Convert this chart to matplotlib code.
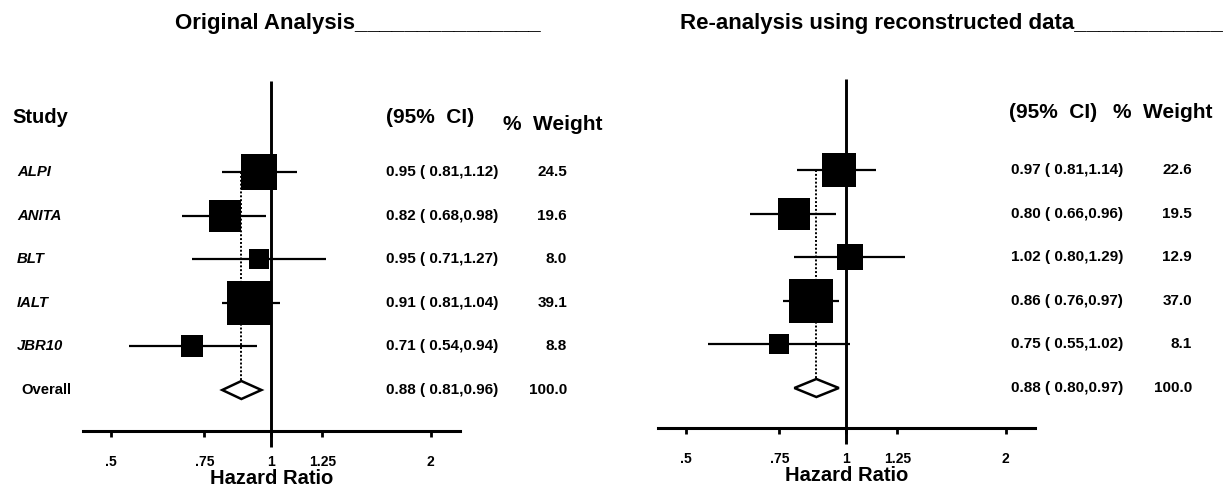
import numpy as np
import matplotlib
matplotlib.use("Agg")
import matplotlib.pyplot as plt
import matplotlib.transforms as mtransforms
from matplotlib.ticker import NullLocator

plt.rcParams['font.family'] = ['Liberation Sans', 'DejaVu Sans']

studies = ["ALPI", "ANITA", "BLT", "IALT", "JBR10"]

# original analysis
orig_hr = [0.95, 0.82, 0.95, 0.91, 0.71]
orig_lo = [0.81, 0.68, 0.71, 0.81, 0.54]
orig_hi = [1.12, 0.98, 1.27, 1.04, 0.94]
orig_w = [24.5, 19.6, 8.0, 39.1, 8.8]
orig_overall = (0.88, 0.81, 0.96)

# re-analysis with reconstructed data
re_hr = [0.97, 0.80, 1.02, 0.86, 0.75]
re_lo = [0.81, 0.66, 0.80, 0.76, 0.55]
re_hi = [1.14, 0.96, 1.29, 0.97, 1.02]
re_w = [22.6, 19.5, 12.9, 37.0, 8.1]
re_overall = (0.88, 0.80, 0.97)

ticks = [0.5, 0.75, 1, 1.25, 2]
tick_labels = [".5", ".75", "1", "1.25", "2"]

W, H = 1231, 488
fig = plt.figure(figsize=(W / 100, H / 100), dpi=100)

ROW = 43.6  # pixels per row


def px_axes(x0, x1, ytop, ybot):
    return fig.add_axes([x0 / W, 1 - ybot / H, (x1 - x0) / W, (ybot - ytop) / H])


def forest(ax, hr, lo, hi, w, overall, row0, ytop, ybot, col_x, wt_x, ci_hdr_x, wt_hdr_x,
           hdr_y, wt_hdr_y, labels):
    n = len(hr)
    y_top = (ytop - row0) / ROW
    y_bot = (ybot - row0) / ROW
    ax.set_xscale("log")
    ax.set_xlim(0.443, 2.27)
    ax.set_ylim(y_bot, y_top)
    for s in ["top", "right", "left"]:
        ax.spines[s].set_visible(False)
    ax.spines["bottom"].set_linewidth(2.2)
    ax.set_yticks([])
    ax.xaxis.set_minor_locator(NullLocator())
    ax.set_xticks(ticks)
    ax.set_xticklabels(tick_labels, fontsize=10, fontweight="bold")
    ax.tick_params(axis="x", length=4.5, width=2, pad=12.5)
    ax.set_xlabel("Hazard Ratio", fontsize=14.5, fontweight="bold", labelpad=0)

    ys = np.arange(n)
    # reference line at HR = 1
    ax.vlines(1, y_top, y_bot + 16 / ROW, colors="black", lw=2.1, clip_on=False, zorder=4)
    # dotted line at the pooled estimate
    ax.vlines(overall[0], 0, n, colors="black", lw=1.4, linestyles=(0, (1, 1)), zorder=1)
    ax.hlines(ys, lo, hi, colors="black", lw=1.6, zorder=2)
    for y, v, wt in zip(ys, hr, w):
        ax.plot(v, y, marker="s", color="black", ms=5.18 * np.sqrt(wt), mew=0, zorder=3)
    est, l, h = overall
    dh = 9 / ROW
    ax.fill([l, est, h, est], [n, n - dh, n, n + dh], facecolor="white",
            edgecolor="black", lw=1.8, zorder=3)

    tr = mtransforms.blended_transform_factory(ax.transAxes, ax.transData)
    allhr = list(hr) + [overall[0]]
    alllo = list(lo) + [overall[1]]
    allhi = list(hi) + [overall[2]]
    allw = list(w) + [100.0]
    for i in range(n + 1):
        ax.text(col_x, i, f"{allhr[i]:.2f} ( {alllo[i]:.2f},{allhi[i]:.2f})", transform=tr,
                ha="left", va="center", fontsize=11, fontweight="bold", clip_on=False)
        ax.text(wt_x, i, f"{allw[i]:.1f}", transform=tr,
                ha="right", va="center", fontsize=11, fontweight="bold", clip_on=False)
    ax.text(ci_hdr_x, hdr_y, "(95%  CI)", transform=tr, ha="left", va="center",
            fontsize=15, fontweight="bold")
    ax.text(wt_hdr_x, wt_hdr_y, "%  Weight", transform=tr, ha="left", va="center",
            fontsize=15, fontweight="bold")
    if labels:
        for i, s in enumerate(studies):
            ax.text(-0.175, i, s, transform=tr, ha="left", va="center",
                    fontsize=10.7, fontweight="bold", fontstyle="italic")
        ax.text(-0.164, n, "Overall", transform=tr, ha="left", va="center",
                fontsize=10.7, fontweight="bold")
        ax.text(-0.188, hdr_y, "Study", transform=tr, ha="left", va="center",
                fontsize=14.5, fontweight="bold")


ax1 = px_axes(83, 460, 81, 431)
forest(ax1, orig_hr, orig_lo, orig_hi, orig_w, orig_overall, 172, 81, 431,
       0.804, 1.284, 0.804, 1.114, (117 - 172) / ROW, (124 - 172) / ROW, True)

ax2 = px_axes(658, 1035, 79, 428)
forest(ax2, re_hr, re_lo, re_hi, re_w, re_overall, 170, 79, 428,
       0.936, 1.416, 0.930, 1.208, (113 - 170) / ROW, (113 - 170) / ROW, False)

fig.text(175 / W, 1 - 23 / H, "Original Analysis" + "_" * 15, ha="left", va="center",
         fontsize=16, fontweight="bold")
fig.text(680 / W, 1 - 23 / H, "Re-analysis using reconstructed data" + "_" * 12, ha="left",
         va="center", fontsize=16, fontweight="bold")

fig.savefig("out.png", dpi=100)
